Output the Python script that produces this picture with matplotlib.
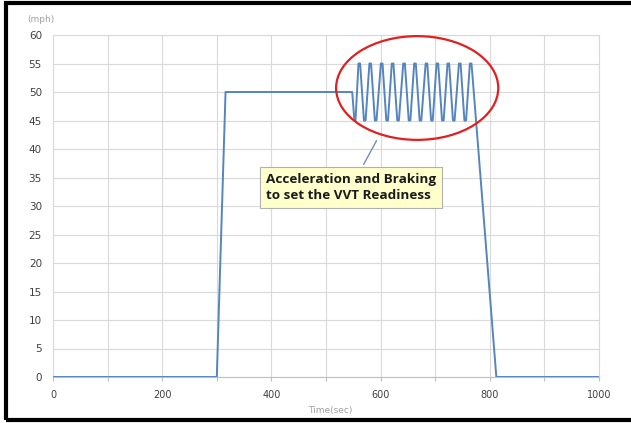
import matplotlib
matplotlib.use('Agg')
import matplotlib.pyplot as plt
from matplotlib.patches import Ellipse, Rectangle

# speed trace (sec, mph)
time_sec = [0, 300, 316, 548, 552, 554,
            559.5, 562.5, 569.5, 572.5, 579.5, 582.5, 589.5, 592.5,
            600.5, 603.5, 610.5, 613.5, 620.5, 623.5, 630.5, 633.5,
            641.5, 644.5, 651.5, 654.5, 661.5, 664.5, 671.5, 674.5,
            682.5, 685.5, 692.5, 695.5, 702.5, 705.5, 712.5, 715.5,
            722.5, 725.5, 732.5, 735.5, 743.5, 746.5, 753.5, 756.5,
            763.5, 766.5, 812, 1000]
speed_mph = [0, 0, 50, 50, 45, 45,
             55, 55, 45, 45, 55, 55, 45, 45,
             55, 55, 45, 45, 55, 55, 45, 45,
             55, 55, 45, 45, 55, 55, 45, 45,
             55, 55, 45, 45, 55, 55, 45, 45,
             55, 55, 45, 45, 55, 55, 45, 45,
             55, 55, 0, 0]

x_ticks = [0, 200, 400, 600, 800, 1000]
y_ticks = list(range(0, 61, 5))
callout = "Acceleration and Braking\nto set the VVT Readiness"

fig = plt.figure(figsize=(6.31, 4.23), dpi=100)
ax = fig.add_axes([53 / 631, 1 - 377 / 423, 546 / 631, 342 / 423])

ax.plot(time_sec, speed_mph, color='#5585be', lw=1.4, solid_joinstyle='round', zorder=3)

ax.set_xlim(0, 1000)
ax.set_ylim(0, 60)
ax.set_xticks(range(0, 1001, 100))
ax.set_xticklabels([str(t) if t in x_ticks else '' for t in range(0, 1001, 100)])
ax.set_yticks(y_ticks)
ax.grid(True, color='#d9d9d9', lw=0.8)
for s in ax.spines.values():
    s.set_color('#d9d9d9')
    s.set_linewidth(0.8)
ax.spines['bottom'].set_color('#bfbfbf')
ax.tick_params(axis='x', length=3, color='#bfbfbf', labelsize=7, labelcolor='#404040', pad=6)
ax.tick_params(axis='y', length=0, labelsize=7.5, labelcolor='#404040', pad=8)

fig.text(41 / 631, 1 - 20 / 423, '(mph)', fontsize=6.5, color='#a0a0a0', ha='center', va='center')
fig.text(330 / 631, 1 - 410 / 423, 'Time(sec)', fontsize=6.5, color='#a0a0a0', ha='center', va='center')

# red ellipse around the oscillation part
ax.add_patch(Ellipse((667, 50.7), 297, 18.2, fill=False, edgecolor='#e02020', lw=1.6, zorder=4))

ax.annotate(callout, xy=(595, 41.9), xytext=(390, 33.2),
            fontsize=9.7, fontweight='bold', color='#1a1a1a', ha='left', va='center',
            family='Open Sans', linespacing=1.3,
            bbox=dict(boxstyle='square,pad=0.45', fc='#ffffcc', ec='#b0b0b0', lw=0.8),
            arrowprops=dict(arrowstyle='-', color='#6f8fb8', lw=1),
            zorder=5)

# black frame around the picture
fig.patches.append(Rectangle((6 / 631, 3 / 423), 640 / 631, 417 / 423, transform=fig.transFigure,
                             fill=False, ec='black', lw=3))

fig.savefig('out.png', dpi=100)
